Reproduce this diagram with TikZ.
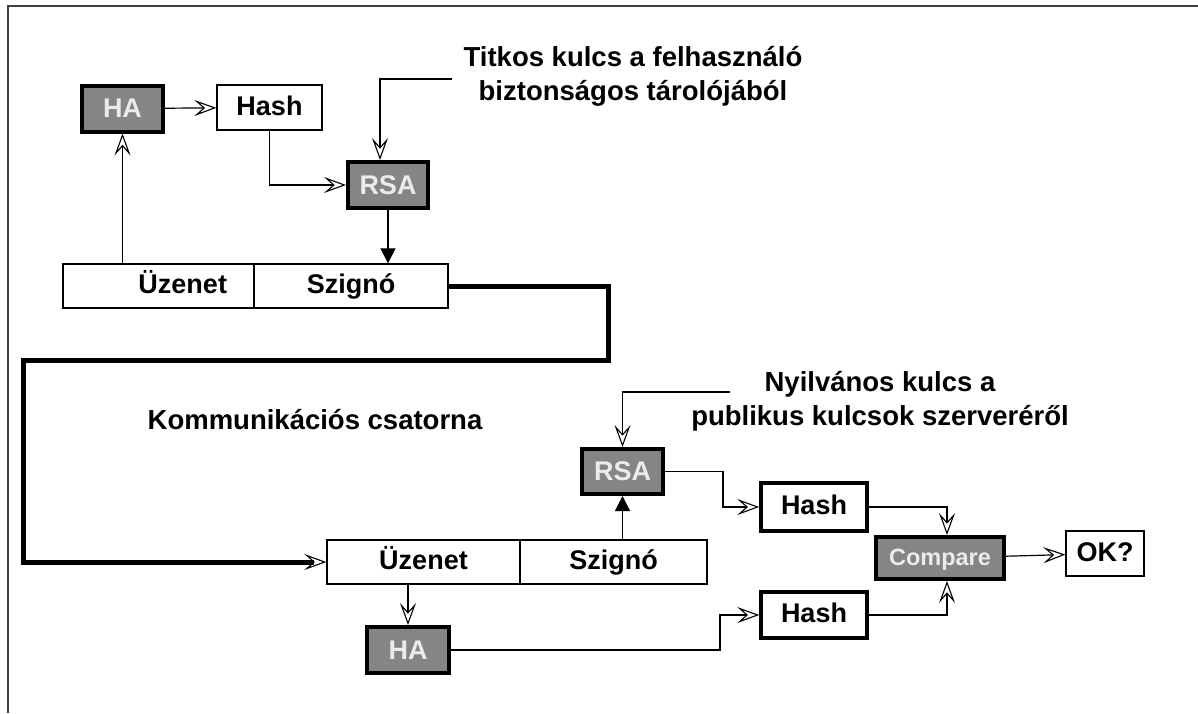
\documentclass[tikz,border=0pt]{standalone}
\usepackage{fontspec}
\setmainfont{Liberation Sans}
\usetikzlibrary{arrows.meta}
\definecolor{boxgray}{RGB}{133,133,133}
\tikzset{
  plainbox/.style={draw, line width=1.3pt, fill=white, inner sep=0pt, text height=20pt, text depth=5pt, font=\bfseries\fontsize{27}{31}\selectfont},
  darkbox/.style={draw, line width=4pt, fill=boxgray, text=white!92!black, inner sep=0pt, text height=20pt, text depth=2pt, font=\bfseries\fontsize{27}{31}\selectfont},
  boldbox/.style={plainbox, line width=3.5pt},
  note/.style={align=center, font=\bfseries\fontsize{27.5}{34}\selectfont},
  flow/.style={line width=1.2pt, -{Stealth[open, length=22pt, width=16pt, inset=9pt, line width=1.1pt]}},
  push/.style={line width=1.2pt, -{Triangle[length=15pt, width=15pt]}},
  chan/.style={line width=5pt, -{Stealth[open, length=22pt, width=16pt, inset=9pt, line width=1.1pt]}}
}
\begin{document}
\begin{tikzpicture}[x=1pt, y=-1pt]
            \useasboundingbox (0,0) rectangle (1198,713);
            \draw [line width=1.8pt, black!75] (8,713) -- (8,6) -- (1198,6);
            % sender side
            \node [darkbox, minimum width=81pt, minimum height=46pt] (ha1) at (122.5,108.5) {HA};
            \node [plainbox, minimum width=105pt, minimum height=45pt] (hash1) at (269.5,107.5) {Hash};
            \node [darkbox, minimum width=80pt, minimum height=46pt] (rsa1) at (388,185) {RSA};
            \node [plainbox, minimum width=191pt, minimum height=44pt, inner xsep=27pt, text width=137pt, align=right] (msg1) at (158.5,286) {Üzenet};
            \node [plainbox, minimum width=194pt, minimum height=44pt] (sig1) at (351,286) {Szignó};
            \node [note] (secret) at (633,76) {Titkos kulcs a felhasználó\\biztonságos tárolójából};
            \coordinate (k1) at (452,79);
            \draw [flow] (ha1) -- (hash1);
            \draw [flow] (hash1.south) |- (rsa1.west);
            \draw [flow] (k1) -| ([xshift=-8pt]rsa1.north);
            \draw [push] (rsa1.south) -- (rsa1.south |- sig1.north);
            \draw [flow] (ha1.south |- msg1.north) -- (ha1.south);
            % channel
            \node [note] (chlabel) at (315,420) {Kommunikációs csatorna};
            \coordinate (c1) at (608,360);
            \coordinate (c2) at (23,360);
            % receiver side
            \node [plainbox, minimum width=193pt, minimum height=44pt] (msg2) at (423.5,562) {Üzenet};
            \node [plainbox, minimum width=187pt, minimum height=44pt] (sig2) at (613.5,562) {Szignó};
            \node [darkbox, minimum width=81pt, minimum height=45pt] (rsa2) at (622.5,471.5) {RSA};
            \node [boldbox, minimum width=106pt, minimum height=48pt] (hash2) at (814,507) {Hash};
            \node [boldbox, minimum width=106pt, minimum height=46pt] (hash3) at (814,615) {Hash};
            \node [darkbox, minimum width=128pt, minimum height=42pt, font=\bfseries\fontsize{23.5}{27}\selectfont, text height=17pt] (cmp) at (940,558) {Compare};
            \node [plainbox, minimum width=78pt, minimum height=45pt] (ok) at (1105,553.5) {OK?};
            \node [darkbox, minimum width=82pt, minimum height=46pt] (ha2) at (408,650) {HA};
            \node [note] (public) at (880,401) {Nyilvános kulcs a\\publikus kulcsok szerveréről};
            \coordinate (k2) at (730,392);
            \coordinate (t1) at (723,471.5);
            \coordinate (t2) at (720,650);
            \draw [chan] (sig1.east) -| (c1) -- (c2) |- (msg2.west);
            \draw [flow] (k2) -| (rsa2.north);
            \draw [push] (rsa2.south |- sig2.north) -- (rsa2.south);
            \draw [flow] (rsa2.east) -- (t1) |- (hash2.west);
            \draw [flow] (hash2.east) -| ([xshift=7pt]cmp.north);
            \draw [flow] (hash3.east) -| ([xshift=7pt]cmp.south);
            \draw [flow] (cmp) -- (ok);
            \draw [flow] (ha2.north |- msg2.south) -- (ha2.north);
            \draw [flow] (ha2.east) -- (t2) |- (hash3.west);
        \end{tikzpicture}
\end{document}
